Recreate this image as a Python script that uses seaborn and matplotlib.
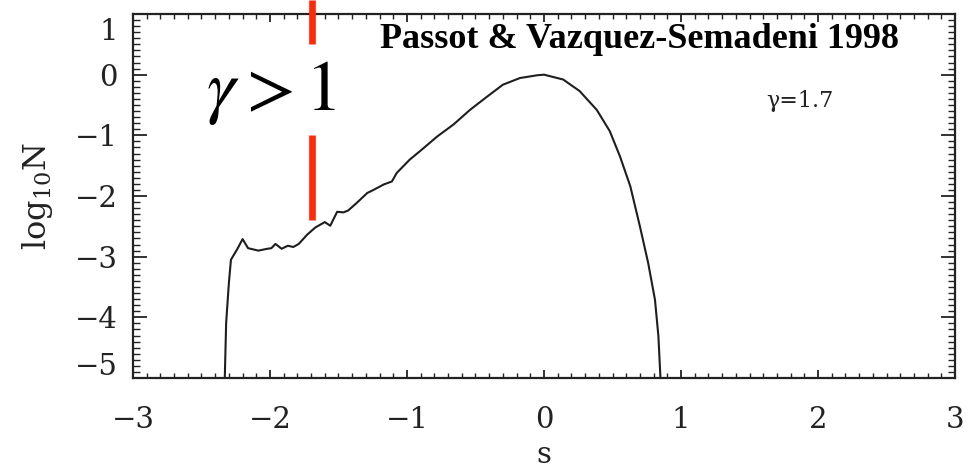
import matplotlib
matplotlib.use("Agg")
import matplotlib.pyplot as plt
import matplotlib.transforms as mtransforms
from matplotlib.ticker import MultipleLocator
import seaborn as sns
import pandas as pd

# Data
s_values = [-2.33, -2.32, -2.30, -2.285, -2.24, -2.20, -2.16, -2.085, -2.02, -1.99,
            -1.96, -1.915, -1.87, -1.83, -1.79, -1.73, -1.67, -1.60, -1.56, -1.51,
            -1.465, -1.43, -1.37, -1.29, -1.245, -1.17, -1.11, -1.075, -0.98, -0.905,
            -0.78, -0.66, -0.54, -0.42, -0.30, -0.175, -0.05, 0.0, 0.14, 0.26,
            0.385, 0.48, 0.555, 0.63, 0.70, 0.76, 0.81, 0.835, 0.85]
logN_values = [-5.0, -4.09, -3.43, -3.05, -2.88, -2.71, -2.86, -2.90, -2.87, -2.86,
               -2.79, -2.87, -2.82, -2.84, -2.79, -2.64, -2.52, -2.43, -2.49, -2.26,
               -2.27, -2.24, -2.12, -1.95, -1.90, -1.81, -1.76, -1.62, -1.40, -1.26,
               -1.02, -0.82, -0.58, -0.37, -0.165, -0.055, -0.01, 0.0, -0.08, -0.27,
               -0.58, -0.93, -1.35, -1.84, -2.50, -3.10, -3.71, -4.31, -5.0]

x_ticks = [-3, -2, -1, 0, 1, 2, 3]
y_ticks = [-5, -4, -3, -2, -1, 0, 1]
x_tick_labels = ["\u22123", "\u22122", "\u22121", "0", "1", "2", "3"]
y_tick_labels = ["\u22125", "\u22124", "\u22123", "\u22122", "\u22121", "0", "1"]

marker_s = [-1.693]
marker_segments = [(0.506, 1.23), (-2.395, -0.995)]

df = pd.DataFrame({"s": s_values, "logN": logN_values})

sns.set_theme(style="ticks")
plt.rcParams["font.family"] = ["DejaVu Serif", "Liberation Serif"]
plt.rcParams["mathtext.fontset"] = "dejavuserif"

fig = plt.figure(figsize=(9.75, 4.73), dpi=100)
ax = fig.add_axes([0.1364, 0.2008, 0.8431, 0.7696])

sns.lineplot(data=df, x="s", y="logN", sort=False, estimator=None,
             color="#1e1e1e", linewidth=1.5, ax=ax)

ax.set_xlim(-3, 3)
ax.set_ylim(-5, 1)
ax.set_xticks(x_ticks)
ax.set_xticklabels(x_tick_labels)
ax.set_yticks(y_ticks)
ax.set_yticklabels(y_tick_labels)
ax.xaxis.set_minor_locator(MultipleLocator(0.1))
ax.yaxis.set_minor_locator(MultipleLocator(0.1))

ax.tick_params(axis="both", which="both", direction="in", top=True, right=True,
               color="#222222", labelcolor="#222222", labelsize=21)
ax.tick_params(axis="x", which="major", length=6, width=1.3, pad=20)
ax.tick_params(axis="x", which="minor", length=3.5, width=1.0)
ax.tick_params(axis="y", which="major", length=10, width=1.3, pad=11)
ax.tick_params(axis="y", which="minor", length=5, width=1.0)
for sp in ax.spines.values():
    sp.set_linewidth(1.6)
    sp.set_color("#222222")

# Shift extreme y labels inward (as in the original IDL plot)
ylabels = ax.get_yticklabels()
ylabels[-1].set_transform(ylabels[-1].get_transform() +
                          mtransforms.ScaledTranslation(0, -15 / 100, fig.dpi_scale_trans))
ylabels[0].set_transform(ylabels[0].get_transform() +
                         mtransforms.ScaledTranslation(0, 14 / 100, fig.dpi_scale_trans))

ax.set_xlabel("s", fontsize=21, color="#222222", labelpad=5)
ax.set_ylabel(r"log$_{10}$N", fontsize=23, color="#222222", labelpad=14,
              math_fontfamily="dejavuserif")

# Red marker line (broken around the label)
for y0, y1 in marker_segments:
    ax.plot([marker_s[0], marker_s[0]], [y0, y1], color="#ff2a0a", linewidth=4.8,
            solid_capstyle="butt", clip_on=False, zorder=5)

ax.text(-2.47, -0.58, r"$\gamma > 1$", fontsize=52, color="black", ha="left",
        va="baseline", math_fontfamily="stix")
fig.text(0.656, 0.8985, "Passot & Vazquez-Semadeni 1998", fontsize=26,
         fontweight="bold", color="black", ha="center", va="baseline",
         family="Liberation Serif")
ax.text(1.62, -0.53, "\u03b3=1.7", fontsize=16, color="#222222", ha="left",
        va="baseline")

fig.savefig("out.png", dpi=100)
